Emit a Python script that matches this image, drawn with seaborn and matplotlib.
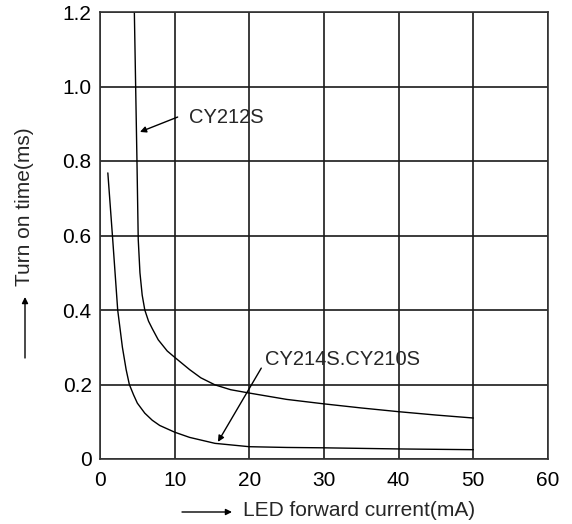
import numpy as np
import pandas as pd
import seaborn as sns
import matplotlib.pyplot as plt

# curves
cy212_current = [4.6, 4.95, 5.12, 5.35, 5.65, 6.0, 6.5, 7.0, 7.8, 9, 10, 12, 13.5, 15.4, 17.5, 20, 25, 30, 35, 40, 45, 50]
cy212_time = [1.2, 0.8, 0.59, 0.50, 0.44, 0.40, 0.37, 0.35, 0.32, 0.29, 0.273, 0.24, 0.218, 0.199, 0.186, 0.177, 0.16, 0.148, 0.137, 0.127, 0.118, 0.110]

cy214_current = [1.05, 1.7, 2.37, 3.0, 3.5, 3.93, 4.5, 5, 6, 7, 8, 10, 12, 15.4, 20, 25, 30, 40, 50]
cy214_time = [0.768, 0.59, 0.40, 0.30, 0.24, 0.20, 0.172, 0.15, 0.123, 0.104, 0.09, 0.072, 0.058, 0.042, 0.033, 0.031, 0.03, 0.027, 0.025]

x_ticks = [0, 10, 20, 30, 40, 50, 60]
y_ticks = [0, 0.2, 0.4, 0.6, 0.8, 1.0, 1.2]
y_labels = ["0", "0.2", "0.4", "0.6", "0.8", "1.0", "1.2"]

df = pd.concat([
    pd.DataFrame({"current": cy212_current, "time": cy212_time, "model": "CY212S"}),
    pd.DataFrame({"current": cy214_current, "time": cy214_time, "model": "CY214S.CY210S"}),
])

sns.set_style("white")
plt.rcParams["font.family"] = ["Liberation Sans", "DejaVu Sans"]
plt.rcParams["font.size"] = 14.5

fig = plt.figure(figsize=(5.72, 5.24), dpi=100)
ax = fig.add_axes([100 / 572, 1 - 459 / 524, 448 / 572, 447 / 524])

sns.lineplot(data=df, x="current", y="time", hue="model", palette=["black", "black"],
             sort=False, estimator=None, linewidth=1.0, legend=False, ax=ax)

ax.set_xlim(0, 60)
ax.set_ylim(0, 1.2)
ax.set_xticks(x_ticks)
ax.set_yticks(y_ticks)
ax.set_yticklabels(y_labels)
ax.grid(True, color="#1a1a1a", linewidth=1.2)
for s in ax.spines.values():
    s.set_color("#333333")
    s.set_linewidth(1.2)
ax.tick_params(axis="both", length=0, labelsize=15, colors="black")
ax.tick_params(axis="x", pad=9)
ax.tick_params(axis="y", pad=6)
ax.set_xlabel("")
ax.set_ylabel("")

arr = dict(arrowstyle="-|>", color="black", lw=1.0, mutation_scale=9, shrinkA=0, shrinkB=0)
ax.text(11.9, 0.918, "CY212S", ha="left", va="center", fontsize=14.5)
ax.annotate("", xy=(5.35, 0.878), xytext=(10.4, 0.918), arrowprops=arr)
ax.text(22.1, 0.266, "CY214S.CY210S", ha="left", va="center", fontsize=14.5)
ax.annotate("", xy=(15.8, 0.046), xytext=(21.6, 0.244), arrowprops=arr)

# axis labels with long arrows, like the datasheet
fig.text(243 / 572, 1 - 510 / 524, "LED forward current(mA)", ha="left", va="center", fontsize=15)
fig.text(25 / 572, 1 - 207 / 524, "Turn on time(ms)", ha="center", va="center", rotation=90, fontsize=15)
ax.annotate("", xy=(232 / 572, 1 - 512 / 524), xytext=(182 / 572, 1 - 512 / 524),
            xycoords="figure fraction", textcoords="figure fraction", arrowprops=arr)
ax.annotate("", xy=(25 / 572, 1 - 297 / 524), xytext=(25 / 572, 1 - 358 / 524),
            xycoords="figure fraction", textcoords="figure fraction", arrowprops=arr)

fig.savefig("out.png", dpi=100)
